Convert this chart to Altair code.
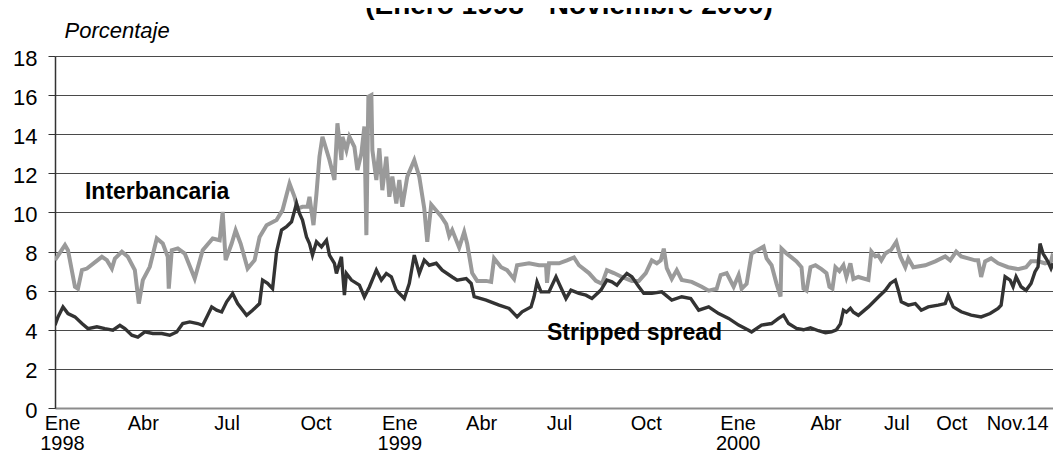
import altair as alt
import pandas as pd

# ---- data (x = position index along the date axis) ----
inter_x = [0, 10, 13, 20, 23, 27, 32, 47, 52, 57, 60, 67, 73, 80, 84, 88, 95, 102, 108, 113,
           114, 117, 123, 130, 140, 148, 158, 165, 168, 171, 177, 181, 186, 193, 200, 205, 212,
           222, 228, 235, 240, 243, 248, 253, 255, 259, 262, 265, 268, 275, 280, 283, 287, 288,
           292, 295, 300, 303, 307, 310, 312, 314, 317, 318, 322, 325, 328, 332, 335, 338, 342,
           345, 348, 353, 360, 365, 370, 373, 377, 382, 387, 392, 395, 398, 405, 410, 413, 418,
           423, 432, 437, 440, 447, 453, 460, 463, 475, 485, 492, 493, 495, 505, 513, 520, 525,
           535, 542, 548, 553, 560, 568, 578, 585, 592, 598, 603, 607, 610, 613, 618, 623, 628,
           638, 648, 655, 663, 667, 673, 680, 685, 688, 693, 698, 705, 710, 713, 718, 723, 727,
           728, 733, 738, 743, 748, 750, 753, 757, 762, 768, 773, 776, 779, 782, 786, 790, 793,
           797, 800, 805, 815, 818, 822, 825, 828, 832, 838, 843, 847, 852, 855, 860, 872, 882,
           892, 897, 903, 908, 915, 922, 925, 928, 932, 938, 945, 955, 965, 973, 978, 985, 992,
           998, 1000]
inter_y = [7.56, 8.33, 8.07, 6.2, 6.1, 7.05, 7.13, 7.73, 7.56, 7.13, 7.64, 7.99, 7.73, 7.05, 5.34,
           6.54, 7.22, 8.67, 8.41, 7.73, 6.1, 8.07, 8.16, 7.9, 6.62, 8.07, 8.67, 8.58, 10.03, 7.56,
           8.41, 9.09, 8.41, 7.13, 7.56, 8.75, 9.35, 9.61, 10.12, 11.48, 10.8, 10.2, 10.29, 10.29,
           10.8, 9.35, 10.97, 12.85, 13.87, 12.68, 11.66, 14.56, 12.68, 13.87, 13.19, 13.87, 13.36,
           12.17, 13.02, 14.39, 8.84, 15.92, 16.0, 13.19, 11.66, 13.28, 11.14, 12.85, 10.8, 11.83,
           10.46, 11.66, 10.29, 11.83, 12.68, 11.83, 10.2, 8.5, 10.4, 10.1, 9.8, 9.4, 8.8, 9.1, 8.2,
           9.0, 8.4, 6.9, 6.5, 6.5, 6.45, 7.65, 7.2, 7.05, 6.6, 7.3, 7.4, 7.3, 7.3, 6.4, 7.4, 7.4,
           7.55, 7.7, 7.3, 6.9, 6.5, 6.35, 7.05, 6.9, 6.7, 6.5, 6.5, 6.9, 7.55, 7.4, 7.55, 8.15,
           7.15, 6.6, 7.05, 6.55, 6.45, 6.2, 6.0, 6.1, 6.8, 6.9, 6.2, 6.8, 6.1, 6.35, 7.9, 8.1,
           8.25, 7.65, 7.3, 6.35, 5.7, 8.15, 7.9, 7.7, 7.5, 7.2, 6.1, 6.0, 7.2, 7.3, 7.1, 6.9, 6.2,
           6.1, 7.2, 7.0, 7.3, 6.7, 7.4, 6.6, 6.7, 6.55, 8.0, 7.75, 7.8, 7.55, 7.9, 8.1, 8.5, 7.75,
           7.2, 7.65, 7.2, 7.3, 7.5, 7.75, 7.55, 8.0, 7.75, 7.65, 7.55, 7.55, 6.7, 7.5, 7.65, 7.4,
           7.2, 7.1, 7.2, 7.5, 7.5, 7.4, 7.5, 7.9]

spread_x = [0, 3, 8, 13, 20, 27, 33, 42, 50, 58, 65, 70, 77, 83, 90, 98, 107, 115, 122, 128, 135,
            143, 148, 153, 157, 162, 167, 172, 178, 183, 192, 198, 205, 208, 213, 218, 222, 227,
            232, 237, 242, 245, 248, 252, 255, 258, 262, 267, 272, 275, 280, 282, 287, 290, 292,
            297, 305, 310, 315, 322, 327, 332, 337, 342, 350, 355, 360, 365, 370, 375, 382, 388,
            398, 403, 412, 417, 420, 432, 445, 455, 463, 468, 477, 480, 483, 487, 495, 502, 505,
            512, 517, 525, 532, 538, 547, 553, 558, 563, 567, 573, 578, 585, 590, 598, 608, 618,
            628, 637, 645, 655, 665, 675, 685, 695, 698, 708, 718, 725, 730, 735, 743, 750, 757,
            765, 772, 778, 783, 787, 790, 793, 797, 800, 805, 815, 825, 832, 837, 842, 845, 848,
            855, 862, 868, 875, 885, 892, 895, 900, 908, 918, 928, 937, 945, 948, 952, 957, 960,
            963, 968, 973, 978, 982, 985, 987, 990, 995, 998, 1000]
spread_y = [4.23, 4.66, 5.17, 4.83, 4.66, 4.32, 4.06, 4.15, 4.06, 3.98, 4.23, 4.06, 3.72, 3.63,
            3.89, 3.81, 3.81, 3.72, 3.89, 4.32, 4.4, 4.32, 4.23, 4.74, 5.17, 5.0, 4.91, 5.43, 5.85,
            5.34, 4.74, 5.0, 5.34, 6.54, 6.37, 6.1, 7.99, 9.1, 9.27, 9.52, 10.46, 9.95, 9.61, 8.75,
            8.41, 7.82, 8.5, 8.24, 8.58, 7.82, 7.39, 6.88, 7.73, 5.77, 6.88, 6.54, 6.28, 5.68, 6.19,
            7.05, 6.54, 6.88, 6.71, 6.02, 5.6, 6.37, 7.82, 6.88, 7.56, 7.3, 7.4, 7.05, 6.7, 6.54,
            6.62, 6.37, 5.69, 5.52, 5.26, 5.09, 4.66, 4.92, 5.17, 5.69, 6.45, 5.94, 5.94, 6.71,
            6.37, 5.6, 6.03, 5.86, 5.77, 5.6, 6.03, 6.54, 6.45, 6.28, 6.54, 6.88, 6.71, 6.2, 5.86,
            5.86, 5.94, 5.52, 5.69, 5.6, 5.0, 5.17, 4.83, 4.58, 4.24, 3.98, 3.89, 4.24, 4.32, 4.58,
            4.75, 4.32, 4.07, 4.0, 4.1, 3.95, 3.85, 3.9, 4.0, 4.3, 5.0, 4.9, 5.1, 4.9, 4.74, 5.17,
            5.68, 6.02, 6.37, 6.54, 6.02, 5.43, 5.26, 5.34, 5.0, 5.17, 5.26, 5.34, 5.77, 5.17,
            4.92, 4.75, 4.66, 4.83, 5.09, 5.26, 6.71, 6.54, 6.2, 6.71, 6.2, 6.02, 6.37, 6.97, 7.22,
            8.41, 7.9, 7.48, 7.14, 7.4]

tick_pos = [7, 88, 172, 261, 345, 427, 505, 592, 684, 772, 843, 898, 964]
tick_labels = ["Ene|1998", "Abr", "Jul", "Oct", "Ene|1999", "Abr", "Jul", "Oct",
               "Ene|2000", "Abr", "Jul", "Oct", "Nov.14"]
y_ticks = [0, 2, 4, 6, 8, 10, 12, 14, 16, 18]

series_names = ["Interbancaria", "Stripped spread"]
series_label_x = [30, 493]
series_label_y = [11.05, 3.84]

title_text = "(Enero 1998 - Noviembre 2000)"
y_title = "Porcentaje"

# ---- build tables ----
inter_df = pd.DataFrame({"x": inter_x, "y": inter_y})
spread_df = pd.DataFrame({"x": spread_x, "y": spread_y})
label_df = pd.DataFrame({"x": series_label_x, "y": series_label_y, "t": series_names})

expr = "''"
for p, l in reversed(list(zip(tick_pos, tick_labels))):
    parts = l.split("|")
    lit = "[" + ",".join("'%s'" % s for s in parts) + "]" if len(parts) > 1 else "'%s'" % l
    expr = "datum.value == %d ? %s : (%s)" % (p, lit, expr)

FONT = "Liberation Sans"

x_enc = alt.X(
    "x:Q",
    scale=alt.Scale(domain=[0, 1000], nice=False, zero=False),
    axis=alt.Axis(
        values=tick_pos, labelExpr=expr, grid=False, ticks=False,
        domain=True, domainColor="#8c8c8c", domainWidth=2,
        labelFont=FONT, labelFontSize=20, labelColor="#000000",
        labelBaseline="top", labelPadding=5, labelLineHeight=20,
        labelAngle=0, labelOverlap=False, labelFlush=False, labelBound=False,
        title="",
    ),
)
y_enc = alt.Y(
    "y:Q",
    scale=alt.Scale(domain=[0, 18], nice=False),
    axis=alt.Axis(
        values=y_ticks, tickCount=10, grid=True, gridColor="#4a4a4a", gridWidth=1,
        domain=True, domainColor="#333333", domainWidth=1.5,
        ticks=True, tickSize=7, tickColor="#333333",
        labelFont=FONT, labelFontSize=22, labelColor="#000000",
        labelPadding=11, labelOffset=2, labelOverlap=False, labelFlush=False,
        labelBound=False,
        title=y_title, titleAngle=0, titleAlign="left", titleBaseline="middle",
        titleX=9, titleY=-26, titleFont=FONT, titleFontSize=22,
        titleFontStyle="italic", titleFontWeight="normal", titleColor="#000000",
    ),
)

inter_line = alt.Chart(inter_df).mark_line(
    color="#9a9a9a", strokeWidth=4, clip=True, strokeJoin="miter"
).encode(x=x_enc, y=y_enc)

spread_line = alt.Chart(spread_df).mark_line(
    color="#333333", strokeWidth=3.4, clip=True, strokeJoin="miter"
).encode(x=x_enc, y=y_enc)

labels = alt.Chart(label_df).mark_text(
    align="left", baseline="middle", font=FONT, fontSize=23, fontWeight="bold", color="#000000"
).encode(x=x_enc, y=y_enc, text="t:N")

chart = alt.layer(inter_line, spread_line, labels).properties(
    width=998,
    height=352,
    autosize=alt.AutoSizeParams(type="none"),
    padding={"left": 47, "top": 48, "right": 0, "bottom": 44},
    title=alt.TitleParams(
        title_text, font=FONT, fontSize=28, fontWeight="bold", color="#000000",
        anchor="middle", dx=15, dy=5,
    ),
).configure_view(stroke=None).configure(background="white")

chart.save("out.html", embed_options={"renderer": "svg", "actions": False})
